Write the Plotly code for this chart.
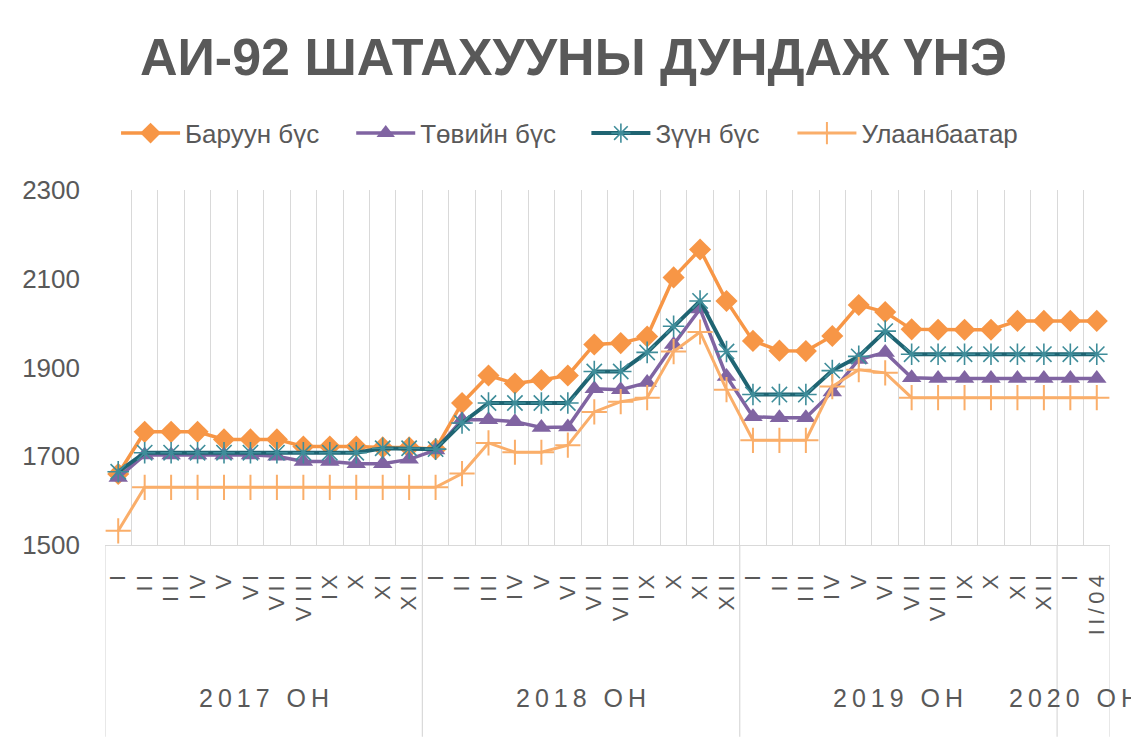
import plotly.graph_objects as go

# ---- data ----
month_labels = ["I", "II", "III", "IV", "V", "VI", "VII", "VIII", "IX", "X", "XI", "XII"] * 3 + ["I", "II/04"]
year_labels = ["2017 ОН", "2018 ОН", "2019 ОН", "2020 ОН"]
year_sizes = [12, 12, 12, 2]

baruun = [1660, 1755, 1755, 1755, 1738, 1738, 1738, 1722, 1722, 1722, 1720, 1720,
          1716, 1820, 1882, 1864, 1872, 1882, 1952, 1955, 1970, 2103, 2166, 2050,
          1960, 1938, 1937, 1971, 2041, 2025, 1986, 1985, 1985, 1985, 2005, 2005,
          2005, 2005]
tov = [1652, 1703, 1703, 1703, 1703, 1703, 1700, 1688, 1688, 1683, 1683, 1693,
       1714, 1782, 1782, 1778, 1765, 1766, 1852, 1850, 1866, 1952, 2032, 1880,
       1789, 1787, 1787, 1845, 1918, 1934, 1877, 1875, 1875, 1875, 1875, 1875,
       1875, 1875]
zuun = [1665, 1708, 1708, 1708, 1708, 1708, 1708, 1708, 1708, 1708, 1718, 1718,
        1716, 1775, 1820, 1820, 1820, 1820, 1891, 1891, 1934, 1993, 2050, 1936,
        1839, 1839, 1839, 1893, 1925, 1982, 1930, 1930, 1930, 1930, 1930, 1930,
        1930, 1930]
ub = [1532, 1630, 1630, 1630, 1630, 1630, 1630, 1630, 1630, 1630, 1630, 1630,
      1630, 1661, 1730, 1709, 1709, 1725, 1800, 1823, 1832, 1936, 1980, 1850,
      1736, 1736, 1736, 1857, 1895, 1888, 1832, 1832, 1832, 1832, 1832, 1832,
      1832, 1832]

series_names = ["Баруун бүс", "Төвийн бүс", "Зүүн бүс", "Улаанбаатар"]
title_text = "АИ-92 ШАТАХУУНЫ ДУНДАЖ ҮНЭ"

x = list(range(len(month_labels)))
FONT = "Liberation Sans"
GREY = "#595959"
GRID = "#D9D9D9"


def spaced(s):
    # emulate the wide letter spacing of the original labels
    return "\u2009".join(s)


fig = go.Figure()
fig.add_trace(go.Scatter(x=x, y=baruun, name=series_names[0], mode="lines+markers", legend="legend",
                         line=dict(color="#F79646", width=3.5),
                         marker=dict(symbol="diamond", size=17, color="#F79646")))
fig.add_trace(go.Scatter(x=x, y=tov, name=series_names[1], mode="lines+markers", legend="legend2",
                         line=dict(color="#8064A2", width=3.5),
                         marker=dict(symbol="triangle-up", size=17, color="#8064A2")))
fig.add_trace(go.Scatter(x=x, y=zuun, name=series_names[2], mode="lines+markers", legend="legend3",
                         line=dict(color="#1F6472", width=4),
                         marker=dict(symbol="asterisk-open", size=18, color="#3F8D9A",
                                     line=dict(width=1.6, color="#3F8D9A"))))
fig.add_trace(go.Scatter(x=x, y=ub, name=series_names[3], mode="lines+markers", legend="legend4",
                         line=dict(color="#FAAE6A", width=3),
                         marker=dict(symbol="cross-thin-open", size=18, color="#FAAE6A",
                                     line=dict(width=2, color="#FAAE6A"))))

# year group labels and dividers
shapes = []
annotations = []
start = 0
bounds = [-0.5]
for i, (lab, n) in enumerate(zip(year_labels, year_sizes)):
    center = start + (n - 1) / 2
    annotations.append(dict(x=center, y=-0.43, xref="x", yref="paper", text=spaced(lab),
                            showarrow=False, xanchor="center", yanchor="middle",
                            xshift=-10 if i == len(year_labels) - 1 else 0,
                            font=dict(family=FONT, size=25, color=GREY)))
    start += n
    bounds.append(start - 0.5)
for b in bounds:
    shapes.append(dict(type="line", xref="x", yref="paper", x0=b, x1=b, y0=0, y1=-0.54,
                       line=dict(color=GRID, width=1.2)))

legend_x = [0.011, 0.245, 0.479, 0.684]
legend_common = dict(orientation="h", y=1.16, yanchor="middle", xanchor="left",
                     font=dict(family=FONT, size=26, color=GREY), itemwidth=59,
                     bgcolor="rgba(0,0,0,0)")

fig.update_layout(
    width=1131, height=732,
    margin=dict(l=97, r=29, t=182, b=195, autoexpand=False),
    paper_bgcolor="white", plot_bgcolor="white",
    title=dict(text=f"<b>{title_text}</b>", x=0.5, xref="container", xanchor="center",
               y=0.933, yanchor="middle",
               font=dict(family=FONT, size=52, color=GREY)),
    legend=dict(x=legend_x[0], **legend_common),
    legend2=dict(x=legend_x[1], **legend_common),
    legend3=dict(x=legend_x[2], **legend_common),
    legend4=dict(x=legend_x[3], **legend_common),
    showlegend=True,
    shapes=shapes,
    annotations=annotations,
    font=dict(family=FONT, color=GREY),
)
fig.update_xaxes(range=[-0.5, len(x) - 0.5], tickmode="array", tickvals=x,
                 ticktext=[spaced(m) for m in month_labels],
                 tickangle=-90, showgrid=False, zeroline=False, automargin=False,
                 showline=True, linecolor=GRID, linewidth=1.2,
                 ticks="", ticklabelstandoff=20,
                 tickfont=dict(family=FONT, size=22, color=GREY),
                 minor=dict(tickmode="linear", tick0=-0.5, dtick=1, showgrid=True,
                            gridcolor=GRID, gridwidth=1.2, ticks=""))
fig.update_yaxes(range=[1500, 2300], tick0=1500, dtick=200, showgrid=False, zeroline=False,
                 showline=False, ticks="", ticklabelstandoff=24, automargin=False,
                 tickfont=dict(family=FONT, size=26, color=GREY))

fig.write_html("out.html")
